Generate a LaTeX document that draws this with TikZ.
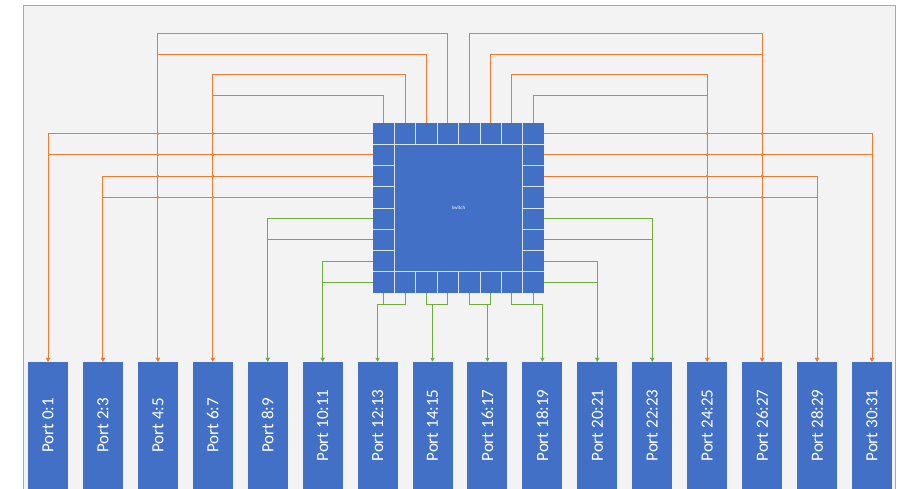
\documentclass[tikz,border=0pt]{standalone}
\usepackage{fontspec}
\setmainfont{Carlito}
\usetikzlibrary{arrows.meta}
\definecolor{portblue}{HTML}{4170C6}
\definecolor{orl}{HTML}{F07A30}
\definecolor{grl}{HTML}{6FAD3F}
\definecolor{bg}{HTML}{F3F3F3}
\definecolor{frame}{HTML}{A8A8A8}
\definecolor{cellline}{HTML}{D5E6CF}
\tikzset{
  portbox/.style={fill=portblue, draw=none, minimum width=40pt, minimum height=127pt, inner sep=0pt,
    text=white, font=\fontsize{17}{19}\selectfont},
  switchbox/.style={fill=portblue, draw=none, minimum width=171pt, minimum height=170pt, inner sep=0pt},
  olink/.style={draw=orl, line width=0.9pt},
  glink/.style={draw=grl, line width=0.9pt},
  oarrow/.style={olink, -{Triangle[length=4pt,width=4pt]}},
  garrow/.style={glink, -{Triangle[length=4pt,width=4pt]}},
  hopdot/.style={fill=orl, draw=none},
  cellsep/.style={draw=cellline, line width=0.7pt}
}
\begin{document}
\begin{tikzpicture}[x=1pt,y=-1pt]
\useasboundingbox (0,0) rectangle (902,489);
\fill[white] (0,0) rectangle (902,489);
\fill[bg] (23,6) rectangle (895,495);
\draw[frame, line width=1pt] (23,495) -- (23,6) -- (895,6) -- (895,495);

% switch
\node[switchbox] (sw) at (458.5,208) {};
\node[text=white, font=\fontsize{5}{6}\selectfont] (swlabel) at (458.5,208) {Switch};
% cell grid
\draw[cellsep] (394.375,144.25) rectangle (522.625,271.75);
\foreach \k in {1,...,7} {
  \draw[cellsep] ({373+21.375*\k},123) -- ({373+21.375*\k},144.25);
  \draw[cellsep] ({373+21.375*\k},271.75) -- ({373+21.375*\k},293);
  \draw[cellsep] (373,{123+21.25*\k}) -- (394.375,{123+21.25*\k});
  \draw[cellsep] (522.625,{123+21.25*\k}) -- (544,{123+21.25*\k});
}

% cell connection points
\foreach \k in {0,...,7} {
  \coordinate (t\k) at ({373+21.375*(\k+0.5)},123);
  \coordinate (b\k) at ({373+21.375*(\k+0.5)},293);
  \coordinate (l\k) at (373,{123+21.25*(\k+0.5)});
  \coordinate (r\k) at (544,{123+21.25*(\k+0.5)});
}

% ports
\foreach \i [evaluate=\i as \a using int(2*\i), evaluate=\i as \b using int(2*\i+1)] in {0,...,15} {
  \node[portbox] (p\i) at ({48+54.93*\i},425.5) {\rotatebox{90}{Port \a:\b}};
}

% levels
\coordinate (lv1) at (0,33);
\coordinate (lv2) at (0,54);
\coordinate (lv3) at (0,74.5);
\coordinate (lv4) at (0,95);
\coordinate (lvb) at (0,304);

% top orange links
\draw[oarrow] (t3) -- (t3 |- lv1) -| (p2.north);
\draw[oarrow] (t2) -- (t2 |- lv2) -| (p2.north);
\draw[oarrow] (t1) -- (t1 |- lv3) -| (p3.north);
\draw[oarrow] (t0) -- (t0 |- lv4) -| (p3.north);
\draw[oarrow] (t4) -- (t4 |- lv1) -| (p13.north);
\draw[oarrow] (t5) -- (t5 |- lv2) -| (p13.north);
\draw[oarrow] (t6) -- (t6 |- lv3) -| (p12.north);
\draw[oarrow] (t7) -- (t7 |- lv4) -| (p12.north);

% side orange links
\draw[oarrow] (l0) -| (p0.north);
\draw[oarrow] (l1) -| (p0.north);
\draw[oarrow] (l2) -| (p1.north);
\draw[oarrow] (l3) -| (p1.north);
\draw[oarrow] (r0) -| (p15.north);
\draw[oarrow] (r1) -| (p15.north);
\draw[oarrow] (r2) -| (p14.north);
\draw[oarrow] (r3) -| (p14.north);

% crossing dots
\foreach \x in {2,3,12,13} {
  \foreach \y in {0,1,2,3} {
    \fill[hopdot] (p\x.north |- l\y) circle (1.4pt);
  }
}

% side green links
\draw[garrow] (l4) -| (p4.north);
\draw[garrow] (l5) -| (p4.north);
\draw[garrow] (l6) -| (p5.north);
\draw[garrow] (l7) -| (p5.north);
\draw[garrow] (r4) -| (p11.north);
\draw[garrow] (r5) -| (p11.north);
\draw[garrow] (r6) -| (p10.north);
\draw[garrow] (r7) -| (p10.north);

% bottom green links
\coordinate (jb6) at (p6.north |- lvb);
\coordinate (jb7) at (p7.north |- lvb);
\coordinate (jb8) at (p8.north |- lvb);
\coordinate (jb9) at (p9.north |- lvb);
\draw[glink] (b0) |- (jb6);
\draw[glink] (b1) |- (jb6);
\draw[garrow] (jb6) -- (p6.north);
\draw[glink] (b2) |- (jb7);
\draw[glink] (b3) |- (jb7);
\draw[garrow] (jb7) -- (p7.north);
\draw[glink] (b4) |- (jb8);
\draw[glink] (b5) |- (jb8);
\draw[garrow] (jb8) -- (p8.north);
\draw[glink] (b6) |- (jb9);
\draw[glink] (b7) |- (jb9);
\draw[garrow] (jb9) -- (p9.north);
\end{tikzpicture}
\end{document}
